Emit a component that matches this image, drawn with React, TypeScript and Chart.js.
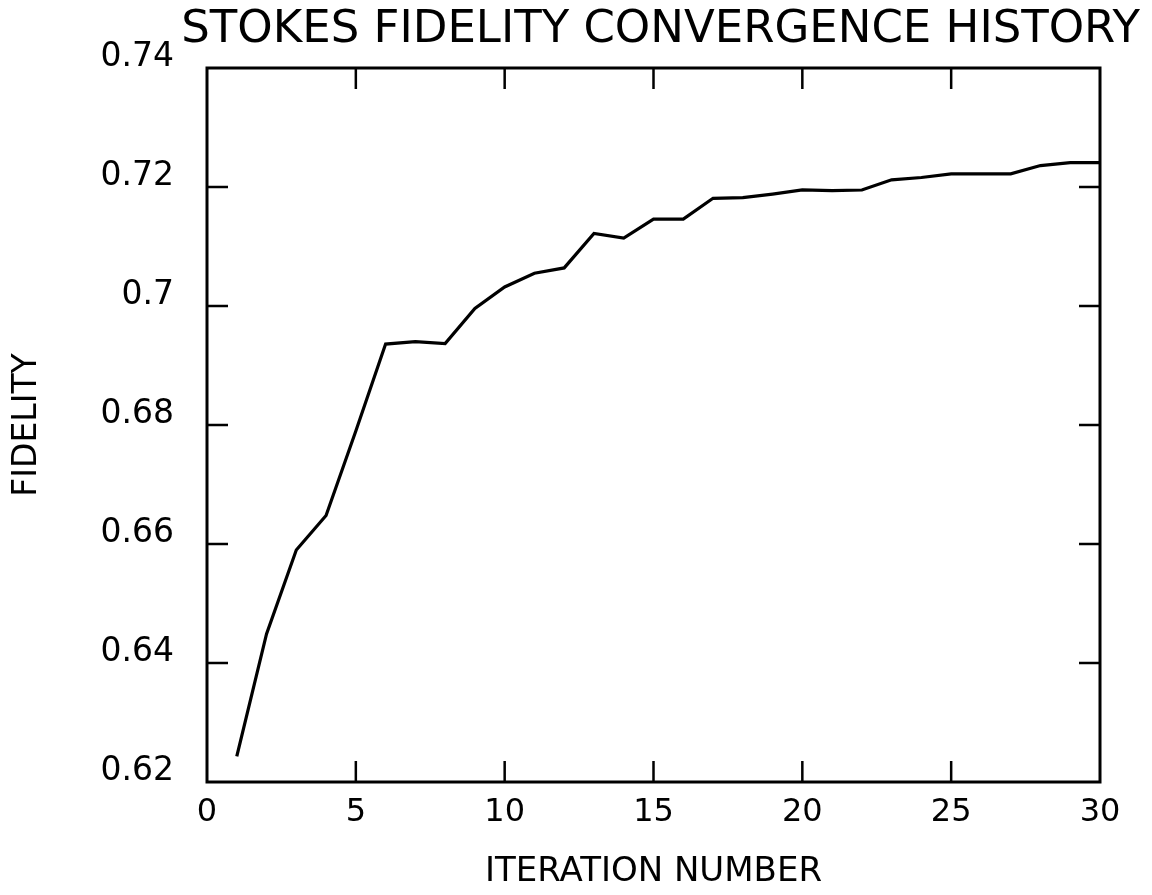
import React, { useEffect, useRef } from "react";
import { Chart, registerables } from "chart.js";

Chart.register(...registerables);

const iterations: number[] = [
  1, 2, 3, 4, 5, 6, 7, 8, 9, 10, 11, 12, 13, 14, 15,
  16, 17, 18, 19, 20, 21, 22, 23, 24, 25, 26, 27, 28, 29, 30,
];
const fidelity: number[] = [
  0.6243, 0.6449, 0.659, 0.6648, 0.679, 0.6936, 0.694, 0.6937, 0.6996, 0.7032,
  0.7055, 0.7064, 0.7122, 0.7114, 0.7146, 0.7146, 0.7181, 0.7182, 0.7188, 0.7195,
  0.7194, 0.7195, 0.7212, 0.7216, 0.7222, 0.7222, 0.7222, 0.7236, 0.7241, 0.7241,
];
const xTicks: number[] = [0, 5, 10, 15, 20, 25, 30];
const yTicks: number[] = [0.62, 0.64, 0.66, 0.68, 0.7, 0.72, 0.74];

const titleText = "STOKES FIDELITY CONVERGENCE HISTORY";
const xTitle = "ITERATION NUMBER";
const yTitle = "FIDELITY";

const FONT = "'DejaVu Sans', sans-serif";

const frameTicks = {
  id: "frameTicks",
  afterDatasetsDraw(chart: any) {
    const { ctx, chartArea } = chart;
    const { left, right, top, bottom } = chartArea;
    const xs = chart.scales.x;
    const ys = chart.scales.y;
    const len = 21;
    ctx.save();
    ctx.strokeStyle = "#000";
    ctx.lineWidth = 3;
    ctx.lineCap = "butt";
    ctx.strokeRect(left, top, right - left, bottom - top);
    ctx.lineWidth = 2.5;
    xTicks.slice(1, -1).forEach((v) => {
      const px = xs.getPixelForValue(v);
      ctx.beginPath();
      ctx.moveTo(px, bottom);
      ctx.lineTo(px, bottom - len);
      ctx.moveTo(px, top);
      ctx.lineTo(px, top + len);
      ctx.stroke();
    });
    yTicks.slice(1, -1).forEach((v) => {
      const py = ys.getPixelForValue(v);
      ctx.beginPath();
      ctx.moveTo(left, py);
      ctx.lineTo(left + len, py);
      ctx.moveTo(right, py);
      ctx.lineTo(right - len, py);
      ctx.stroke();
    });
    ctx.restore();
  },
};

export default function App() {
  const ref = useRef<HTMLCanvasElement | null>(null);

  useEffect(() => {
    if (!ref.current) return;
    const chart = new Chart(ref.current, {
      type: "line",
      data: {
        datasets: [
          {
            label: "Fidelity",
            data: iterations.map((x, i) => ({ x, y: fidelity[i] })),
            borderColor: "#000",
            borderWidth: 3.2,
            pointRadius: 0,
            tension: 0,
            fill: false,
          },
        ],
      },
      options: {
        responsive: false,
        animation: false,
        layout: { padding: { left: 0, right: 12, top: 0, bottom: 0 } },
        plugins: {
          legend: { display: false },
          tooltip: { enabled: false },
          title: {
            display: true,
            text: titleText,
            align: "end",
            color: "#000",
            font: { family: FONT, size: 45, weight: "normal" },
            padding: { top: 3, bottom: 11 },
          },
        },
        scales: {
          x: {
            type: "linear",
            min: 0,
            max: 30,
            afterFit: (s: any) => {
              s.height = 113;
              s.paddingRight = 52;
              s.paddingLeft = 0;
            },
            afterBuildTicks: (s: any) => {
              s.ticks = xTicks.map((v) => ({ value: v }));
            },
            ticks: {
              color: "#000",
              font: { family: FONT, size: 32 },
              padding: 11,
              maxRotation: 0,
              autoSkip: false,
            },
            grid: { display: false, drawTicks: false },
            border: { display: false },
            title: {
              display: true,
              text: xTitle,
              color: "#000",
              font: { family: FONT, size: 34 },
              padding: { top: 0, bottom: 2 },
            },
          },
          y: {
            type: "linear",
            min: 0.62,
            max: 0.74,
            afterFit: (s: any) => {
              s.width = 207;
              s.paddingTop = 0;
              s.paddingBottom = 0;
            },
            afterBuildTicks: (s: any) => {
              s.ticks = yTicks.map((v) => ({ value: v }));
            },
            ticks: {
              color: "#000",
              font: { family: FONT, size: 33 },
              padding: 33,
              labelOffset: -11,
              autoSkip: false,
              callback: (v: any) => String(Math.round(Number(v) * 100) / 100),
            },
            grid: { display: false, drawTicks: false },
            border: { display: false },
            title: {
              display: true,
              text: yTitle,
              color: "#000",
              font: { family: FONT, size: 33 },
              padding: { top: 8, bottom: 0 },
            },
          },
        },
      },
      plugins: [frameTicks],
    });
    return () => chart.destroy();
  }, []);

  return (
    <div
      style={{
        position: "fixed",
        left: 0,
        top: 0,
        width: 1152,
        height: 895,
        background: "#fff",
      }}
    >
      <canvas ref={ref} width={1152} height={895} style={{ display: "block" }} />
    </div>
  );
}
